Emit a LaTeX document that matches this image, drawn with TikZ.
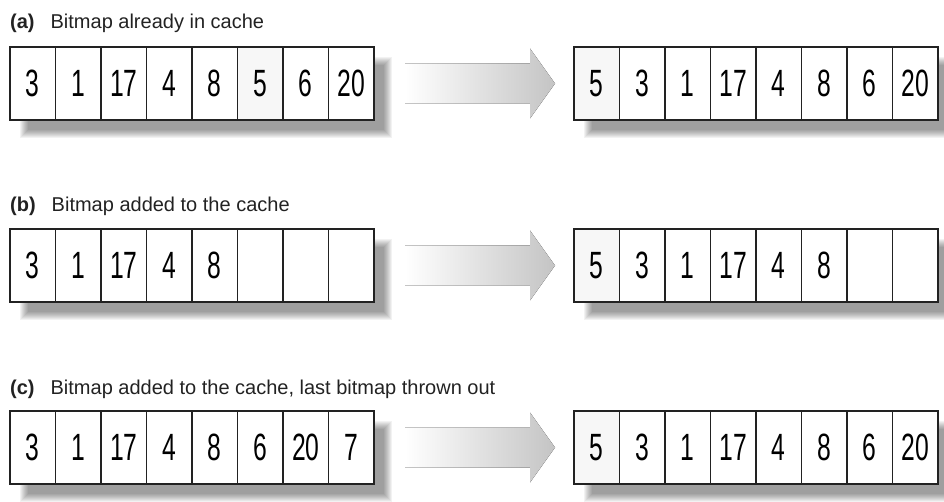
\documentclass[tikz,border=0pt]{standalone}
\usepackage{fontspec}
\setmainfont{Liberation Sans}
\newfontfamily\cifras{Liberation Sans}[FakeStretch=0.65]
\usetikzlibrary{backgrounds,calc}
\definecolor{ink}{HTML}{222222}
\definecolor{resalte}{HTML}{F7F7F7}
\definecolor{gris}{HTML}{C4C4C4}
\tikzset{
  celda/.style={draw=ink,line width=1.3pt,fill=white,minimum width=45.5pt,minimum height=73pt,
    inner sep=0pt,outer sep=0pt,font=\cifras\fontsize{38}{38}\selectfont},
  rotulo/.style={anchor=base west,inner sep=0pt,font=\fontsize{20}{20}\selectfont,color=ink},
  sombra/.style={fill=black,opacity=0.05},
  flechagris/.pic={
    \fill[left color=white,middle color=gris!70,right color=gris]
      (-75,-20) -- (50,-20) -- (50,-35) -- (75,0) -- (50,35) -- (50,20) -- (-75,20) -- cycle;
  },
}

\begin{document}
\begin{tikzpicture}[x=1pt,y=-1pt]
  \useasboundingbox (0,0) rectangle (944,502);
  % (a)
  \node[rotulo] (ta) at (10,29) {\textbf{(a)}\hspace{0.8em}Bitmap already in cache};
  \foreach \v/\f [count=\i] in {3/white,1/white,17/white,4/white,8/white,5/resalte,6/white,20/white}
    \node[celda,fill=\f] (ai\i) at ({10+45.5*(\i-0.5)},83.5) {\v};
  \foreach \v/\f [count=\i] in {5/resalte,3/white,1/white,17/white,4/white,8/white,6/white,20/white}
    \node[celda,fill=\f] (ad\i) at ({574+45.5*(\i-0.5)},83.5) {\v};
  % (b)
  \node[rotulo] (tb) at (10,212) {\textbf{(b)}\hspace{0.8em}Bitmap added to the cache};
  \foreach \v/\f [count=\i] in {3/white,1/white,17/white,4/white,8/white,/white,/white,/white}
    \node[celda,fill=\f] (bi\i) at ({10+45.5*(\i-0.5)},265.5) {\v};
  \foreach \v/\f [count=\i] in {5/resalte,3/white,1/white,17/white,4/white,8/white,/white,/white}
    \node[celda,fill=\f] (bd\i) at ({574+45.5*(\i-0.5)},265.5) {\v};
  % (c)
  \node[rotulo] (tc) at (10,394) {\textbf{(c)}\hspace{0.8em}Bitmap added to the cache, last bitmap thrown out};
  \foreach \v/\f [count=\i] in {3/white,1/white,17/white,4/white,8/white,6/white,20/white,7/white}
    \node[celda,fill=\f] (ci\i) at ({10+45.5*(\i-0.5)},447.5) {\v};
  \foreach \v/\f [count=\i] in {5/resalte,3/white,1/white,17/white,4/white,8/white,6/white,20/white}
    \node[celda,fill=\f] (cd\i) at ({574+45.5*(\i-0.5)},447.5) {\v};
  \begin{scope}[on background layer]
    \foreach \r in {ai,ad,bi,bd,ci,cd}
      \foreach \k in {0,...,8}
        \fill[sombra] ([shift={(10+\k,10+\k)}]\r1.north west) rectangle ([shift={(18-\k,18-\k)}]\r8.south east);
  \end{scope}
  \foreach \r in {a,b,c} {
    \path (\r i8.east) -- coordinate[pos=0.53] (f\r) (\r d1.west);
    \pic at (f\r) {flechagris};
  }
\end{tikzpicture}
\end{document}
